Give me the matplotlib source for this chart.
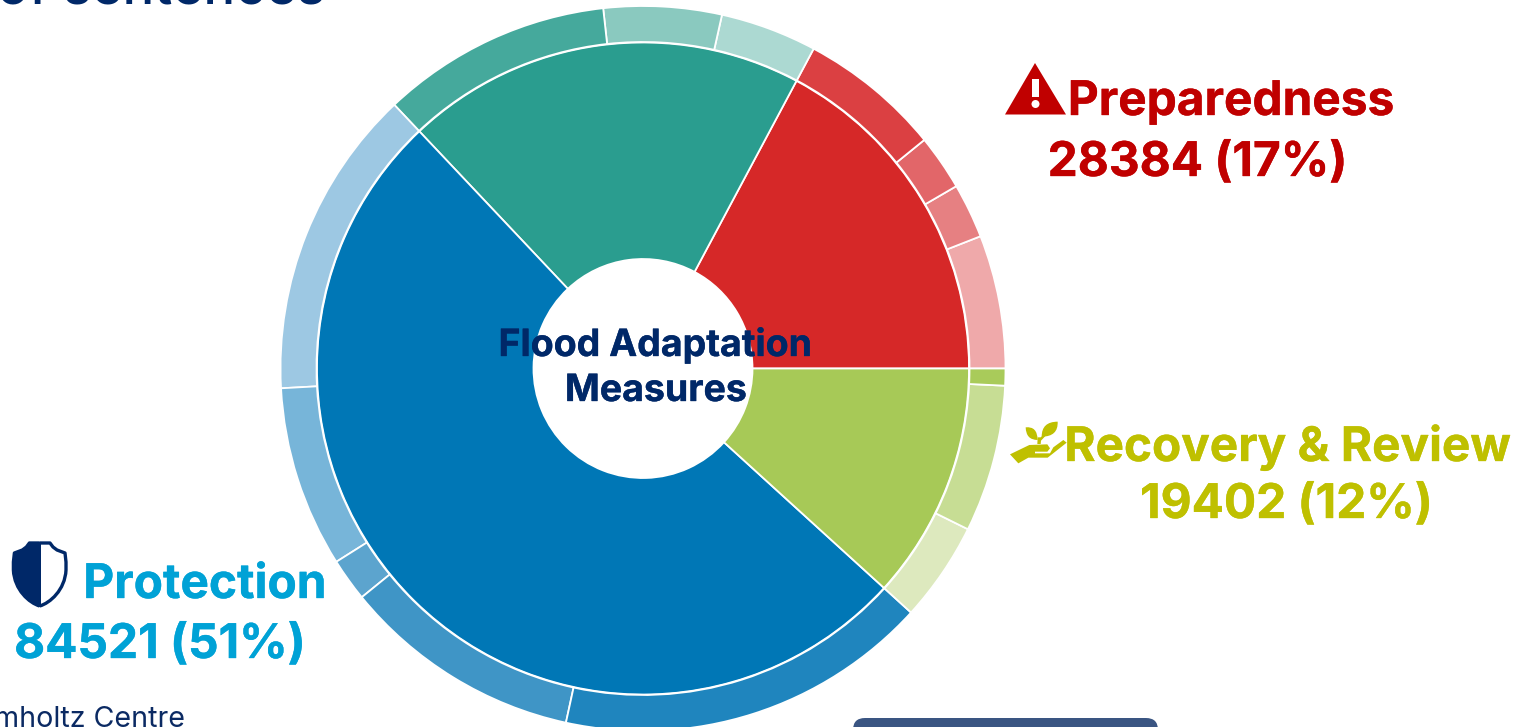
#!/usr/bin/env python3
"""Nested donut of flood adaptation measures, saved as out.png."""

import matplotlib
matplotlib.use("Agg")
import matplotlib.patheffects as pe
import matplotlib.pyplot as plt
from matplotlib.patches import Circle, FancyBboxPatch, PathPatch, Polygon, Rectangle
from matplotlib.path import Path

WIDTH, HEIGHT = 1522, 727

# inner ring, counter-clockwise from east
group_names = ["Preparedness", "Unlabelled", "Protection", "Recovery & Review"]
group_values = [28384, 32740, 84521, 19402]
group_colors = ["#D62828", "#2A9D8F", "#0077B6", "#A7C957"]

# outer ring, same order as the inner ring
sub_values = [
    9811, 4034, 4080, 10459,
    7106, 8665, 16969,
    22834, 13339, 3163, 17697, 27488,
    7335, 10820, 1247,
]
sub_colors = [
    "#EFA9AA", "#E68082", "#E26669", "#DB4042",
    "#ACD9D2", "#8AC9BF", "#45A99C",
    "#9DC8E3", "#77B5D9", "#5CA4CE", "#3F95C6", "#1F85BE",
    "#DDE9BE", "#C7DD94", "#A9CB5A",
]

NAVY = "#002868"
RED = "#C00000"
CYAN = "#00A2D6"
OLIVE = "#BFC000"


def py(y):
    """Image row to axes y."""
    return HEIGHT - y


def label(ax, x, y, text, color, size=34.4, weight="bold", ha="center", stroke=0.25):
    t = ax.text(x, py(y), text, color=color, fontsize=size, fontweight=weight,
                family=["Inter", "DejaVu Sans"], ha=ha, va="baseline", zorder=5)
    if stroke:
        t.set_path_effects([pe.withStroke(linewidth=stroke, foreground=color)])


def zoom_path(points, codes, ox, oy):
    """Path measured on a 3x crop back to axes coordinates."""
    return Path([(x / 3 + ox, py(y / 3 + oy)) for x, y in points], codes)


def draw_warning(ax):
    ax.add_patch(Polygon([(1035, py(63)), (1005, py(114.5)), (1066, py(114.5))], color=RED, lw=0, zorder=5))
    ax.add_patch(Rectangle((1032, py(97)), 7, 18, color="white", lw=0, zorder=6))
    ax.add_patch(Circle((1035.5, py(104)), 4, color="white", lw=0, zorder=6))


def draw_shield(ax):
    cx = 39.7
    right = [(cx, 543), (50, 543), (53, 547), (57, 550), (65, 553),
             (66, 562), (66, 570), (65, 590), (50, 603), (cx, 606)]
    codes = [Path.MOVETO] + [Path.LINETO] * 6 + [Path.CURVE4] * 3
    left = [(2 * cx - x, y) for x, y in right]
    left_path = Path([(x, py(y)) for x, y in left], codes)
    right_path = Path([(x, py(y)) for x, y in right], codes)
    style = dict(edgecolor=NAVY, lw=2.4, joinstyle="round", zorder=5)
    ax.add_patch(PathPatch(left_path, facecolor=NAVY, **style))
    ax.add_patch(PathPatch(right_path, facecolor="white", **style))
    ax.add_patch(Rectangle((cx - 1, py(607)), 2, 65, color=NAVY, lw=0, zorder=6))


def draw_plant(ax):
    hand = [(30, 163), (88, 135), (142, 133), (150, 145), (142, 155), (105, 155), (105, 160),
            (150, 160), (160, 142), (190, 120), (200, 128), (143, 173), (85, 173), (55, 190), (30, 163)]
    hand_codes = [Path.MOVETO] + [Path.LINETO] * (len(hand) - 1)
    leaf_a = [(77, 82), (112, 78), (113, 120), (113, 120), (78, 120), (77, 82)]
    leaf_b = [(173, 65), (175, 110), (125, 110), (125, 110), (125, 65), (173, 65)]
    leaf_codes = [Path.MOVETO, Path.CURVE3, Path.CURVE3, Path.LINETO, Path.CURVE3, Path.CURVE3]
    stem = [(112, 132), (113, 112), (122, 112), (135, 100), (140, 104), (123, 122), (122, 132), (112, 132)]
    stem_codes = [Path.MOVETO] + [Path.LINETO] * (len(stem) - 1)
    for pts, codes in ((hand, hand_codes), (leaf_a, leaf_codes), (leaf_b, leaf_codes), (stem, stem_codes)):
        ax.add_patch(PathPatch(zoom_path(pts, codes, 1000, 400), facecolor=OLIVE, lw=0, zorder=5))


def main():
    fig = plt.figure(figsize=(WIDTH / 100, HEIGHT / 100), dpi=100)
    ax = fig.add_axes([0, 0, 1, 1])

    center = (643, py(368.5))
    edge = dict(edgecolor="white", linewidth=1.3)
    ax.pie(group_values, colors=group_colors, startangle=0, counterclock=True, center=center,
           radius=326, wedgeprops=dict(width=216.5, **edge))
    ax.pie(sub_values, colors=sub_colors, startangle=0, counterclock=True, center=center,
           radius=362.5, wedgeprops=dict(width=36, **edge))
    ax.set_xlim(0, WIDTH)
    ax.set_ylim(0, HEIGHT)
    ax.axis("off")

    label(ax, 655.5, 356, "Flood Adaptation", NAVY, size=27)
    label(ax, 656, 401, "Measures", NAVY, size=27)

    label(ax, 1231, 115, group_names[0], RED)
    label(ax, 1197.5, 176, f"{group_values[0]} (17%)", RED)
    label(ax, 1287.5, 461, group_names[3], OLIVE, size=34.3)
    label(ax, 1286.5, 518, f"{group_values[3]} (12%)", OLIVE)
    label(ax, 205, 598, group_names[2], CYAN)
    label(ax, 160, 658, f"{group_values[2]} (51%)", CYAN)

    draw_warning(ax)
    draw_shield(ax)
    draw_plant(ax)

    # fragments of the surrounding slide, cut by the crop
    label(ax, 325, 3, "of sentences", NAVY, size=38, weight="medium", ha="right", stroke=0)
    label(ax, 185, 727, "Helmholtz Centre", "#0B2A63", size=20.6, weight="normal", ha="right", stroke=0)
    ax.add_patch(FancyBboxPatch((865, py(760)), 281, 30, boxstyle="round,pad=12,rounding_size=12",
                                facecolor="#3A5582", edgecolor="none", zorder=4))

    fig.savefig("out.png", dpi=100)


if __name__ == "__main__":
    main()
